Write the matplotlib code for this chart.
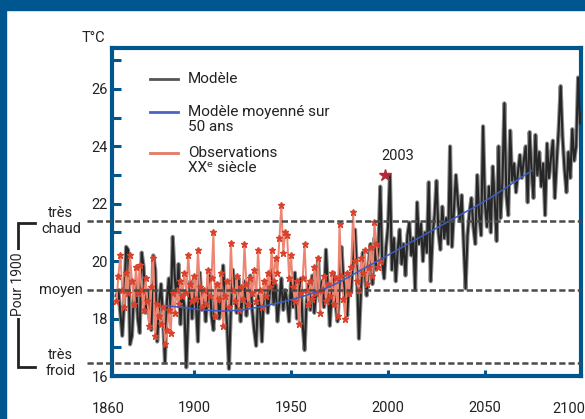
import matplotlib
matplotlib.use('Agg')
import matplotlib.pyplot as plt
import numpy as np
from matplotlib.transforms import blended_transform_factory
from matplotlib.patches import Rectangle

plt.rcParams['font.family'] = ['Roboto', 'DejaVu Sans']

# --- data ---
model_years = np.arange(1860, 2101)
model_temp = [
    18.8, 19.0, 18.2, 17.4, 18.6, 20.5, 20.4, 17.1, 17.4, 18.9,
    19.3, 18.0, 17.5, 20.3, 19.8, 18.2, 19.0, 18.0, 17.6, 20.2,
    19.7, 17.2, 18.5, 19.2, 18.0, 16.5, 18.6, 19.4, 18.2, 20.85,
    19.5, 18.7, 19.9, 17.8, 19.0, 18.4, 16.3, 18.2, 19.3, 18.0,
    19.4, 18.5, 17.2, 19.6, 18.3, 19.0, 17.9, 18.8, 19.5, 18.1,
    17.6, 18.9, 19.2, 18.0, 18.6, 19.85, 18.7, 17.8, 16.25, 18.4,
    19.7, 19.0, 18.2, 19.4, 17.9, 18.8, 19.3, 18.1, 18.9, 19.5,
    18.3, 17.6, 17.05, 18.8, 18.4, 17.2, 18.9, 19.3, 18.2, 18.9,
    19.7, 18.5, 19.2, 17.9, 18.6, 19.4, 18.3, 19.0, 18.6, 17.9,
    19.3, 18.4, 19.6, 18.0, 18.8, 19.4, 17.8, 16.9, 18.6, 19.2,
    18.3, 19.5, 18.2, 19.0, 20.1, 18.6, 19.3, 18.4, 20.4, 19.1,
    17.75, 18.9, 19.6, 18.5, 17.9, 19.2, 20.5, 19.4, 18.6, 18.1,
    19.5, 18.9, 20.2, 21.1, 19.6, 17.3, 18.9, 20.3, 19.7, 18.8,
    19.9, 20.6, 19.2, 20.8, 19.7, 20.4, 22.6, 20.0, 19.4, 20.5,
    21.2, 23.0, 19.7, 20.8, 19.3, 20.4, 21.1, 19.9, 20.6, 19.5,
    20.9, 21.35, 20.2, 20.8, 19.0, 22.05, 20.6, 21.3, 20.0, 21.0,
    20.3, 22.75, 19.3, 20.9, 21.6, 22.8, 21.0, 20.4, 21.9, 20.8,
    21.5, 20.6, 24.0, 20.5, 21.8, 23.0, 22.1, 21.4, 22.3, 20.6,
    19.05, 20.9, 21.7, 22.2, 21.2, 20.6, 23.0, 21.6, 20.9, 24.7,
    22.0, 21.2, 22.6, 21.0, 23.3, 22.1, 20.7, 24.0, 21.5, 22.8,
    25.5, 22.3, 21.6, 24.55, 22.8, 23.4, 22.4, 23.1, 23.7, 22.9,
    23.5, 24.0, 22.05, 24.5, 23.2, 22.2, 24.4, 23.0, 23.8, 22.6,
    23.4, 21.6, 24.1, 22.9, 23.6, 24.2, 22.2, 23.5, 24.6, 26.1,
    24.3, 23.2, 22.4, 23.8, 22.9, 24.6, 23.5, 24.0, 26.4, 24.8,
    25.2,
]

smooth_years = [1886, 1895, 1905, 1915, 1925, 1935, 1945, 1955, 1965, 1975,
                1985, 1995, 2005, 2015, 2025, 2035, 2045, 2055, 2065, 2074]
smooth_temp = [18.45, 18.38, 18.3, 18.26, 18.3, 18.42, 18.57, 18.75, 18.97, 19.27,
               19.65, 20.02, 20.4, 20.78, 21.15, 21.53, 21.9, 22.3, 22.75, 23.15]

obs_years = np.arange(1860, 1997)
obs_temp = [
    18.6, 19.5, 20.2, 19.0, 18.4, 19.6, 18.9, 20.2, 19.3, 18.5,
    19.8, 18.9, 19.85, 19.0, 18.3, 19.4, 18.6, 17.75, 19.1, 20.1,
    17.4, 18.5, 18.1, 17.8, 18.4, 17.1, 17.6, 18.3, 17.5, 18.9,
    18.2, 19.0, 18.5, 19.3, 18.8, 19.6, 18.9, 20.2, 19.2, 18.6,
    19.5, 18.7, 20.4, 19.1, 18.4, 19.0, 18.5, 19.7, 18.8, 19.4,
    21.0, 18.1, 19.2, 18.7, 19.6, 17.75, 18.8, 19.3, 18.4, 20.65,
    19.0, 18.6, 19.5, 18.3, 19.1, 18.7, 20.6, 19.2, 18.5, 19.4,
    18.9, 19.7, 18.6, 20.4, 19.0, 18.4, 19.3, 18.8, 19.6, 19.1,
    20.4, 19.3, 20.1, 19.6, 20.8, 21.95, 20.3, 21.0, 20.9, 19.4,
    20.2, 19.1, 18.6, 19.3, 17.8, 18.9, 19.4, 20.6, 19.0, 18.5,
    19.3, 18.7, 19.8, 18.9, 20.1, 18.2, 19.0, 19.5, 18.6, 19.2,
    18.8, 19.6, 18.5, 19.4, 18.1, 21.3, 19.5, 18.7, 18.0, 19.6,
    18.9, 19.8, 21.7, 20.0, 19.3, 19.0, 20.1, 19.6, 20.4, 19.2,
    19.8, 20.5, 19.5, 21.35, 20.6, 19.8, 20.0,
]

star_year, star_temp = 1998.5, 23.0

levels = [21.4, 19.0, 16.45]
level_labels = ['très\nchaud', 'moyen', 'très\nfroid']

BLUE = '#00568f'
TXT = '#222222'

fig = plt.figure(figsize=(5.85, 4.19), dpi=100)

ax = fig.add_axes([112 / 585, 1 - 376 / 419, 469 / 585, 327.5 / 419], zorder=1)
ax.set_xlim(1857.7, 2099.5)
ax.set_ylim(16.0, 27.41)

ax.plot(model_years, model_temp, color='#8e8e8e', lw=3.0, zorder=2)
ax.plot(model_years, model_temp, color='#262626', lw=1.5, zorder=3)
ax.plot(obs_years, obs_temp, color='#ec8571', lw=1.4, marker='*', ms=4.5,
        mfc='#d9432d', mec='#d9432d', zorder=4)
ax.plot(smooth_years, smooth_temp, color='#3c5cc4', lw=1.1, zorder=5)
ax.plot(star_year, star_temp, marker='*', ms=9, color='#b02a3c', zorder=6)
ax.text(2005, 23.65, '2003', ha='center', va='center', fontsize=10.5, color=TXT)

tr = blended_transform_factory(ax.transAxes, ax.transData)
for lev, lab in zip(levels, level_labels):
    ax.plot([-0.053, 1.0], [lev, lev], transform=tr, clip_on=False,
            color='#4a4a4a', lw=1.8, dashes=(2.5, 1.2), zorder=7)
    ax.text(-0.109, lev, lab, transform=tr, ha='center', va='center',
            fontsize=10.5, color=TXT)

for s in ax.spines.values():
    s.set_color(BLUE)
    s.set_linewidth(3)

ax.set_yticks([16, 18, 20, 22, 24, 26])
ax.set_yticks([17, 19, 21, 23, 25, 27], minor=True)
ax.tick_params(axis='y', which='both', direction='in', length=6.5, width=2.2,
               color=BLUE, pad=3, labelsize=10.5, labelcolor=TXT)
ax.set_xticks([1900, 1950, 2000, 2050])
ax.tick_params(axis='x', direction='in', length=4, width=2.2, color=BLUE,
               pad=18, labelsize=10.5, labelcolor=TXT)
trx = blended_transform_factory(ax.transData, ax.transAxes)
ax.text(1856.0, -0.078, '1860', transform=trx, ha='center', va='top',
        fontsize=10.5, color=TXT)
ax.text(2093.3, -0.078, '2100', transform=trx, ha='center', va='top',
        fontsize=10.5, color=TXT)

# decorations in pixel coordinates
deco = fig.add_axes([0, 0, 1, 1], zorder=2)
deco.set_xlim(0, 585)
deco.set_ylim(419, 0)
deco.axis('off')
deco.patch.set_visible(False)
deco.add_patch(Rectangle((0, 0), 585, 10, color=BLUE))
deco.add_patch(Rectangle((0, 0), 6, 419, color=BLUE))
deco.text(93, 38, 'T°C', ha='center', va='center', fontsize=10.5, color=TXT)

deco.plot([35, 18, 18, 35], [222.7, 222.7, 367, 367], color=TXT, lw=2,
          solid_joinstyle='miter')
deco.text(18, 284, 'Pour 1900', rotation=90, ha='center', va='center',
          fontsize=10, color=TXT, bbox=dict(fc='white', ec='none', pad=1.5))

# legend
leg = [(79, ['Modèle'], '#555555'),
       (112, ['Modèle moyenné sur', '50 ans'], '#4a64c4'),
       (153, ['Observations', 'XXᵉ siècle'], '#e27a64')]
for y, lines, c in leg:
    deco.plot([150, 178], [y, y], color=c, lw=2)
    for i, t in enumerate(lines):
        deco.text(188, y + 15 * i, t, ha='left', va='center', fontsize=11,
                  color=TXT)

fig.savefig('out.png', dpi=100)
